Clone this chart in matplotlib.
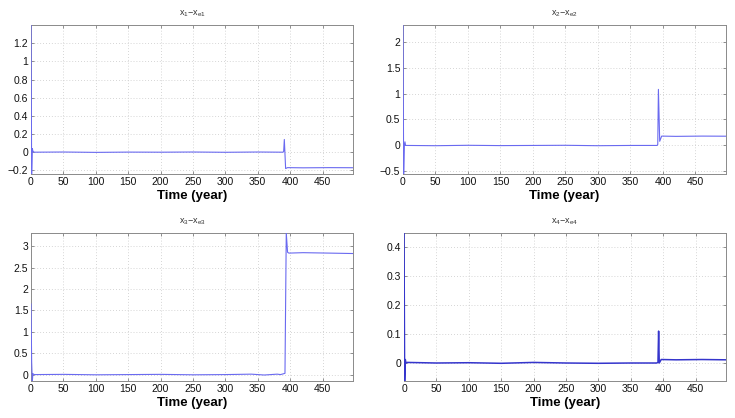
import matplotlib
matplotlib.use("Agg")
import matplotlib.pyplot as plt

plt.rcParams['font.family'] = ['Liberation Sans', 'DejaVu Sans']
plt.rcParams['mathtext.default'] = 'regular'

# ---- data (key points) ----
t1 = [0, 1, 2, 3, 5, 50, 100, 150, 200, 250, 300, 350, 389, 390, 391, 393, 396, 420, 460, 497]
x1 = [1.40, -0.24, 0.04, 0.01, 0.0, 0.002, -0.002, 0.001, 0.0, 0.002, -0.001, 0.002, 0.0, 0.01, 0.14, -0.18, -0.17, -0.172, -0.17, -0.171]

t2 = [0, 1, 2, 3, 4, 6, 50, 100, 150, 200, 250, 300, 350, 391, 392, 393, 395, 398, 420, 460, 497]
x2 = [2.32, -0.55, 0.0, 0.07, 0.0, 0.0, -0.005, 0.003, -0.003, 0.0, 0.003, -0.005, 0.0, 0.0, 0.02, 1.08, 0.08, 0.18, 0.175, 0.18, 0.178]

t3 = [0, 1, 2, 3, 5, 50, 100, 150, 200, 250, 300, 340, 360, 380, 385, 390, 392, 394, 396, 398, 420, 460, 497]
x3 = [1.65, 0.3, -0.15, 0.02, 0.0, 0.005, -0.005, 0.0, 0.005, -0.005, 0.0, 0.01, -0.01, 0.01, 0.0, 0.02, 0.03, 3.31, 2.86, 2.84, 2.85, 2.84, 2.83]

t4 = [0, 1, 2, 3, 5, 50, 100, 150, 200, 250, 300, 350, 390, 392, 393, 394, 397, 420, 460, 497]
x4 = [0.448, -0.062, 0.012, 0.0, 0.002, 0.0, 0.001, -0.001, 0.002, 0.0, -0.001, 0.0, 0.0, 0.002, 0.11, 0.0, 0.012, 0.011, 0.012, 0.011]

titles = [r'x$_1$$-$x$_{e1}$', r'x$_2$$-$x$_{e2}$', r'x$_3$$-$x$_{e3}$', r'x$_4$$-$x$_{e4}$']
series = [(t1, x1), (t2, x2), (t3, x3), (t4, x4)]
ylims = [(-0.24, 1.40), (-0.55, 2.32), (-0.15, 3.31), (-0.062, 0.448)]
yticks = [[-0.2, 0, 0.2, 0.4, 0.6, 0.8, 1, 1.2],
          [-0.5, 0, 0.5, 1, 1.5, 2],
          [0, 0.5, 1, 1.5, 2, 2.5, 3],
          [0, 0.1, 0.2, 0.3, 0.4]]
ytl = [['-0.2', '0', '0.2', '0.4', '0.6', '0.8', '1', '1.2'],
       ['-0.5', '0', '0.5', '1', '1.5', '2'],
       ['0', '0.5', '1', '1.5', '2', '2.5', '3'],
       ['0', '0.1', '0.2', '0.3', '0.4']]
xticks = [0, 50, 100, 150, 200, 250, 300, 350, 400, 450]
colors = ['#6a6af0', '#6a6af0', '#6a6af0', '#3535cc']

W, H = 735, 418
boxes = [(31, 25, 353, 174), (403, 25, 726, 174), (31, 233, 353, 381), (404, 233, 726, 381)]

fig = plt.figure(figsize=(W / 100, H / 100), dpi=100)
for i, (l, t, r, b) in enumerate(boxes):
    ax = fig.add_axes([l / W, (H - b) / H, (r - l) / W, (b - t) / H])
    tt, yy = series[i]
    ax.plot(tt, yy, color=colors[i], lw=0.8 if i < 3 else 1.1, zorder=4)
    ax.set_xlim(0, 497)
    ax.set_ylim(*ylims[i])
    ax.set_xticks(xticks)
    ax.set_yticks(yticks[i])
    ax.set_yticklabels([s.replace('-', '\u2212') for s in ytl[i]])
    ax.tick_params(direction='in', length=2.5, width=0.5, labelsize=7.5,
                   colors='#666666', labelcolor='#111111', pad=2)
    ax.tick_params(top=True, right=True, which='both')
    ax.grid(True, linestyle=(0, (1, 2.5)), color='#c8c8c8', linewidth=0.6)
    for s in ax.spines.values():
        s.set_color('#8a8a8a')
        s.set_linewidth(0.7)
        s.set_zorder(3)
    ax.set_xlabel('Time (year)', fontsize=9.5, fontweight='bold', labelpad=2)
    ax.set_title(titles[i], fontsize=6.5, color='#333333', pad=7)

fig.savefig('out.png', dpi=100)
